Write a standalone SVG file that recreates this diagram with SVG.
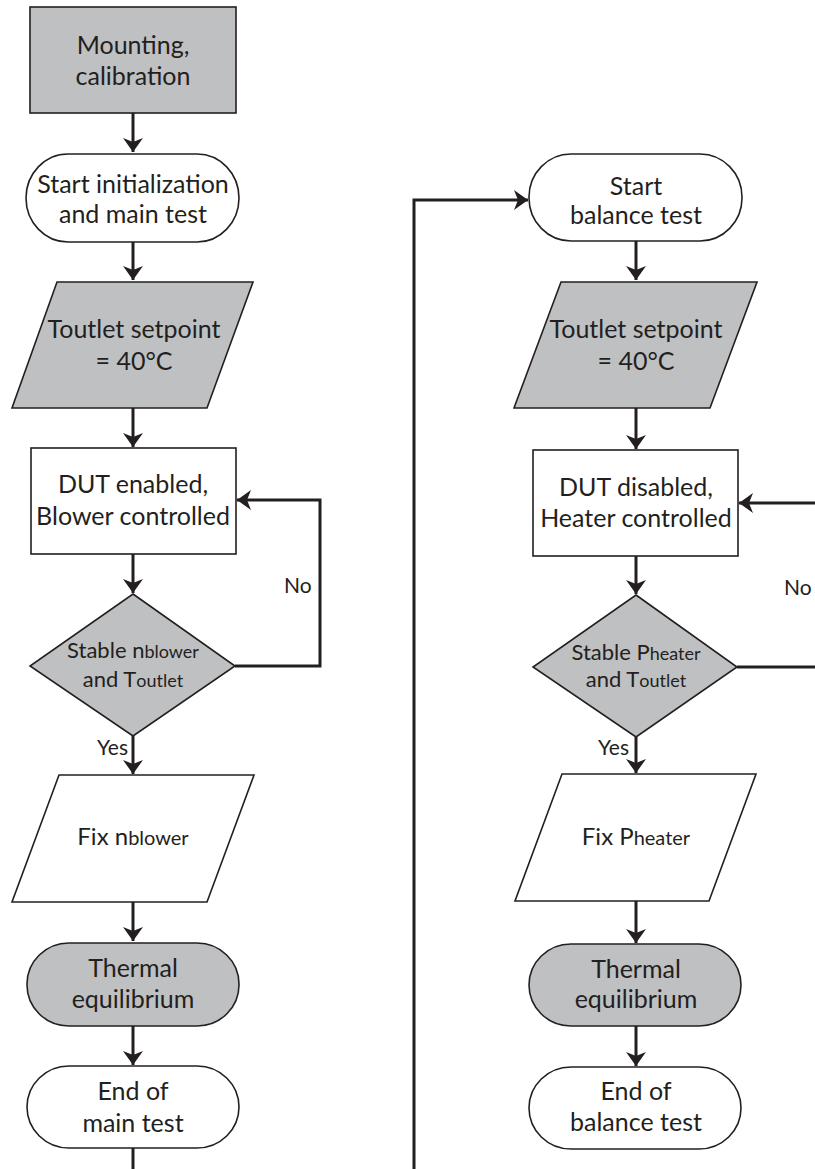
<svg xmlns="http://www.w3.org/2000/svg" width="815" height="1169" viewBox="0 0 815 1169">
<defs>
<style>
.n{stroke:#231f20;stroke-width:1.6;}
.g{fill:#bfc0c2;}
.w{fill:#ffffff;}
.t{font-family:Lato,"Liberation Sans",sans-serif;font-size:25px;fill:#231f20;text-anchor:middle;}
.d{font-family:Lato,"Liberation Sans",sans-serif;font-size:22px;fill:#231f20;text-anchor:middle;}
.s{font-size:18px;}
.s2{font-size:20px;}
.l{font-family:Lato,"Liberation Sans",sans-serif;font-size:21px;fill:#231f20;}
.c{fill:none;stroke:#231f20;stroke-width:3;}
</style>
<marker id="ah" viewBox="-15 -11 17 22" refX="0" refY="0" markerWidth="17" markerHeight="22" markerUnits="userSpaceOnUse" orient="auto">
<path d="M-14,-10 L0,0 L-14,10 L-10,0 Z" fill="#231f20"/>
</marker>
</defs>
<rect width="815" height="1169" fill="#ffffff"/>

<g id="connectors">
<path class="c" d="M133,113 V152" marker-end="url(#ah)"/>
<path class="c" d="M133,242 V280" marker-end="url(#ah)"/>
<path class="c" d="M133,408 V447" marker-end="url(#ah)"/>
<path class="c" d="M133,554 V593" marker-end="url(#ah)"/>
<path class="c" d="M133,736 V774" marker-end="url(#ah)"/>
<path class="c" d="M133,902 V941" marker-end="url(#ah)"/>
<path class="c" d="M133,1026 V1065" marker-end="url(#ah)"/>
<path class="c" d="M133,1148 V1169"/>
<path class="c" d="M235,666 H320 V500 H237" marker-end="url(#ah)"/>
<path class="c" d="M414,1169 V200 H528" marker-end="url(#ah)"/>
<path class="c" d="M636,241 V280" marker-end="url(#ah)"/>
<path class="c" d="M636,408 V449" marker-end="url(#ah)"/>
<path class="c" d="M636,556 V594" marker-end="url(#ah)"/>
<path class="c" d="M636,737 V773" marker-end="url(#ah)"/>
<path class="c" d="M636,901 V943" marker-end="url(#ah)"/>
<path class="c" d="M636,1026 V1066" marker-end="url(#ah)"/>
<path class="c" d="M737,667 H815"/>
<path class="c" d="M815,503 H739" marker-end="url(#ah)"/>
<text class="l" x="284" y="593">No</text>
<text class="l" x="128" y="755" text-anchor="end">Yes</text>
<text class="l" x="784" y="595">No</text>
<text class="l" x="629" y="755" text-anchor="end">Yes</text>
</g>

<g id="mounting">
<rect class="n g" x="30" y="7" width="206" height="106"/>
<text class="t" x="133" y="54">Mounting,</text>
<text class="t" x="133" y="85">calibration</text>
</g>
<g id="start-main">
<rect class="n w" x="26" y="154" width="213" height="88" rx="42" ry="44"/>
<text class="t" x="133" y="193">Start initialization</text>
<text class="t" x="133" y="223">and main test</text>
</g>
<g id="setpoint-main">
<polygon class="n g" points="57,282 253,282 207,408 12,408"/>
<text class="t" x="134" y="338">Toutlet setpoint</text>
<text class="t" x="134" y="370">= 40°C</text>
</g>
<g id="dut-enabled">
<rect class="n w" x="31" y="448" width="205" height="106"/>
<text class="t" x="133" y="493">DUT enabled,</text>
<text class="t" x="133" y="525">Blower controlled</text>
</g>
<g id="stable-main">
<polygon class="n g" points="133,594 235,666 133,736 30,666"/>
<text class="d" x="133" y="658">Stable n<tspan class="s">blower</tspan></text>
<text class="d" x="133" y="687">and T<tspan class="s">outlet</tspan></text>
</g>
<g id="fix-main">
<polygon class="n w" points="59,775 254,775 207,902 12,902"/>
<text class="t" x="133" y="845" style="font-size:24px">Fix n<tspan class="s2">blower</tspan></text>
</g>
<g id="thermal-main">
<rect class="n g" x="27" y="943" width="212" height="83" rx="42" ry="41"/>
<text class="t" x="133" y="977">Thermal</text>
<text class="t" x="133" y="1008">equilibrium</text>
</g>
<g id="end-main">
<rect class="n w" x="27" y="1066" width="212" height="82" rx="42" ry="41"/>
<text class="t" x="133" y="1100">End of</text>
<text class="t" x="133" y="1132">main test</text>
</g>

<g id="start-balance">
<rect class="n w" x="529" y="154" width="213" height="87" rx="42" ry="43"/>
<text class="t" x="636" y="195">Start</text>
<text class="t" x="636" y="224">balance test</text>
</g>
<g id="setpoint-balance">
<polygon class="n g" points="561,282 757,282 710,408 514,408"/>
<text class="t" x="636" y="338">Toutlet setpoint</text>
<text class="t" x="636" y="370">= 40°C</text>
</g>
<g id="dut-disabled">
<rect class="n w" x="533" y="450" width="205" height="106"/>
<text class="t" x="636" y="496">DUT disabled,</text>
<text class="t" x="636" y="527">Heater controlled</text>
</g>
<g id="stable-balance">
<polygon class="n g" points="636,595 737,667 636,737 533,667"/>
<text class="d" x="636" y="660">Stable P<tspan class="s">heater</tspan></text>
<text class="d" x="636" y="687">and T<tspan class="s">outlet</tspan></text>
</g>
<g id="fix-balance">
<polygon class="n w" points="562,774 756,774 709,901 515,901"/>
<text class="t" x="636" y="845" style="font-size:24px">Fix P<tspan class="s2">heater</tspan></text>
</g>
<g id="thermal-balance">
<rect class="n g" x="529" y="944" width="212" height="82" rx="42" ry="41"/>
<text class="t" x="636" y="978">Thermal</text>
<text class="t" x="636" y="1008">equilibrium</text>
</g>
<g id="end-balance">
<rect class="n w" x="529" y="1067" width="212" height="82" rx="42" ry="41"/>
<text class="t" x="636" y="1100">End of</text>
<text class="t" x="636" y="1131">balance test</text>
</g>
</svg>
